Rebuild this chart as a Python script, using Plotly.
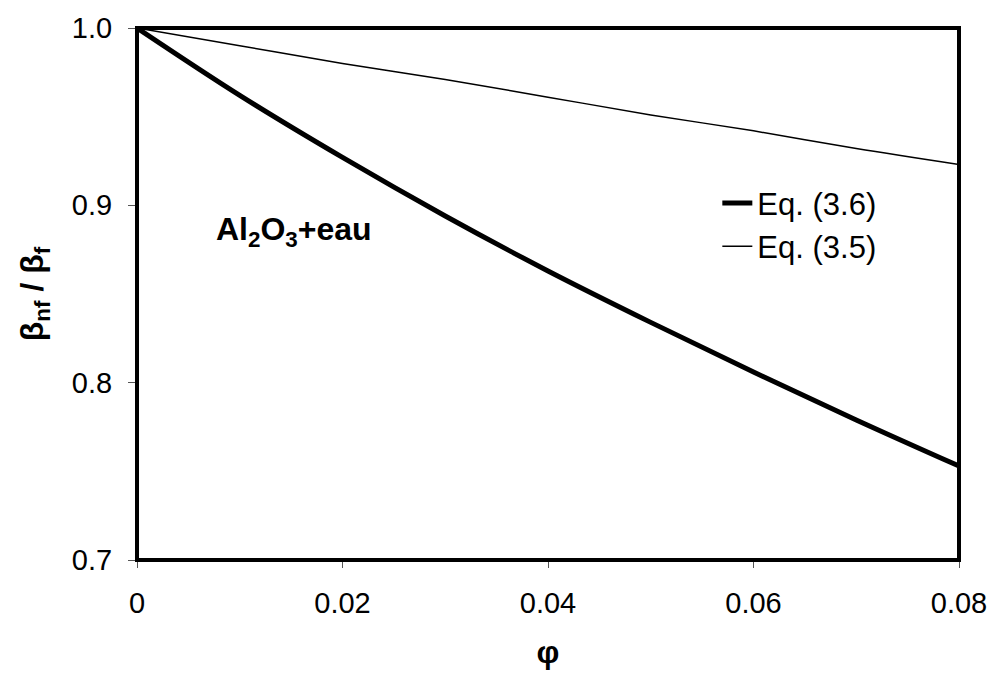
import plotly.graph_objects as go

phi = [0, 0.01, 0.02, 0.03, 0.04, 0.05, 0.06, 0.07, 0.08]
eq36 = [1.0, 0.962, 0.927, 0.894, 0.863, 0.834, 0.806, 0.779, 0.753]
eq35 = [1.0, 0.990, 0.980, 0.971, 0.961, 0.951, 0.942, 0.932, 0.923]

x_ticks = [0, 0.02, 0.04, 0.06, 0.08]
x_ticklabels = ["0", "0.02", "0.04", "0.06", "0.08"]
y_ticks = [0.7, 0.8, 0.9, 1.0]
y_ticklabels = ["0.7", "0.8", "0.9", "1.0"]

FONT = "Liberation Sans, Arial, sans-serif"

fig = go.Figure()
fig.add_trace(go.Scatter(x=phi, y=eq36, mode="lines", name="Eq. (3.6)",
                         line=dict(color="black", width=5), line_shape="spline"))
fig.add_trace(go.Scatter(x=phi, y=eq35, mode="lines", name="Eq. (3.5)",
                         line=dict(color="black", width=1.5), line_shape="spline"))

fig.update_layout(
    width=999, height=686,
    margin=dict(l=137, r=34, t=25, b=126),
    paper_bgcolor="white", plot_bgcolor="white",
    font=dict(family=FONT, color="black", size=29),
    showlegend=True,
    legend=dict(x=0.706, y=0.63, xanchor="left", yanchor="middle",
                font=dict(size=31, family=FONT), bgcolor="rgba(0,0,0,0)",
                tracegroupgap=0, itemwidth=30),
    xaxis=dict(range=[0, 0.08], tickvals=x_ticks, ticktext=x_ticklabels,
               showgrid=False, zeroline=False, showline=False,
               ticks="outside", ticklen=7, tickwidth=1, tickcolor="#555",
               tickfont=dict(size=29), ticklabelstandoff=10,
               title=dict(text="<b>φ</b>", font=dict(size=32), standoff=22)),
    yaxis=dict(range=[0.7, 1.0], tickvals=y_ticks, ticktext=y_ticklabels,
               showgrid=False, zeroline=False, showline=False,
               ticks="outside", ticklen=8, tickwidth=1, tickcolor="#555",
               tickfont=dict(size=29), ticklabelstandoff=10,
               title=dict(text="<b>β<sub>nf</sub> / β<sub>f</sub></b>", font=dict(size=32), standoff=18)),
    shapes=[dict(type="rect", xref="paper", yref="paper", x0=0, y0=0, x1=1, y1=1,
                 line=dict(color="black", width=4))],
    annotations=[dict(text="<b>Al<sub>2</sub>O<sub>3</sub>+eau</b>", xref="x", yref="y",
                      x=0.0075, y=0.885, xanchor="left", yanchor="middle",
                      showarrow=False, font=dict(size=32, family=FONT))],
)

fig.write_html("out.html")
